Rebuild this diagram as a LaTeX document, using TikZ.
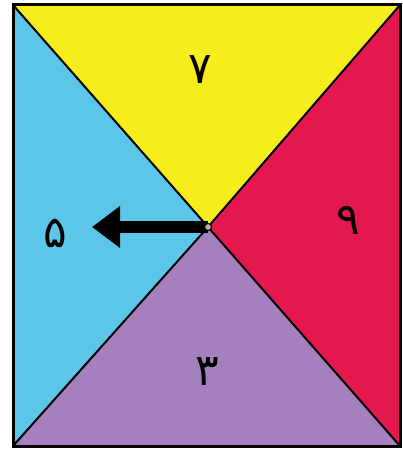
\documentclass[tikz,border=0pt]{standalone}
\usepackage{fontspec}
\newfontfamily\arabicfont[Script=Arabic]{DejaVu Sans}
\TeXXeTstate=1
\usetikzlibrary{arrows.meta}
\definecolor{cyel}{HTML}{F7EC1C}
\definecolor{cred}{HTML}{E5174F}
\definecolor{cpur}{HTML}{A57FBE}
\definecolor{cblu}{HTML}{5CC6E9}
\tikzset{
  digit/.style={font=\arabicfont\fontsize{44}{46}\selectfont, inner sep=0pt},
  edge/.style={line width=2pt, black},
}
\begin{document}
\begin{tikzpicture}[x=1pt,y=-1pt]
\useasboundingbox (0,0) rectangle (402,454);
\fill[white] (0,0) rectangle (402,454);
\coordinate (tl) at (13,5);
\coordinate (tr) at (400,5);
\coordinate (br) at (400,446);
\coordinate (bl) at (13,446);
\coordinate (c) at (208,227);
\fill[cyel] (tl) -- (tr) -- (c) -- cycle;
\fill[cred] (tr) -- (br) -- (c) -- cycle;
\fill[cpur] (br) -- (bl) -- (c) -- cycle;
\fill[cblu] (bl) -- (tl) -- (c) -- cycle;
\draw[edge] (tl) -- (c) -- (br);
\draw[edge] (tr) -- (c) -- (bl);
\draw[line width=3pt] (tl) rectangle (br);
\node[digit] (n7) at (200,70) {\beginR ۷\endR};
\node[digit] (n9) at (348,220) {\beginR ۹\endR};
\node[digit] (n3) at (207,372) {\beginR ۳\endR};
\node[digit] (n5) at (55,233) {\beginR ۵\endR};
\coordinate (tip) at (92,227);
\draw[line width=12pt, -{Triangle[length=28pt,width=40pt]}] (c) -- (tip);
\node[circle, fill=gray!60, draw=black, line width=1pt, inner sep=0pt, minimum size=7pt] (cen) at (c) {};
\end{tikzpicture}
\end{document}
